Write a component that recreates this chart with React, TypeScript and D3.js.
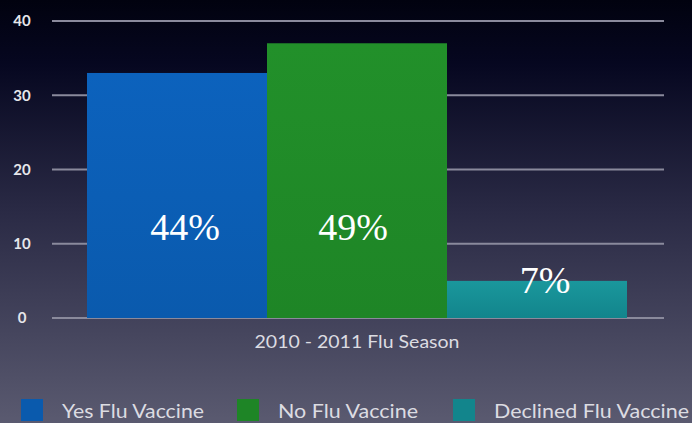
import React from "react";
import * as d3 from "d3";

const categories = ["Yes Flu Vaccine", "No Flu Vaccine", "Declined Flu Vaccine"];
const values = [33, 37, 5];
const percentLabels = ["44%", "49%", "7%"];
const yTicks = [0, 10, 20, 30, 40];
const groupLabel = "2010 - 2011 Flu Season";
const colors = ["#0a5aad", "#1e8526", "#12858c"];
const colorsLight = ["#0c62bd", "#22902a", "#1a979c"];

const W = 692;
const H = 423;

export default function App() {
  const y = d3.scaleLinear().domain([0, 40]).range([318, 21]);
  const x = d3.scaleBand().domain(categories).range([87, 627]).padding(0);
  const legendX = [21, 237, 453];
  const sans = "Lato, 'Open Sans', sans-serif";

  return (
    <svg width={W} height={H} style={{ position: "absolute", left: 0, top: 0 }}>
      <defs>
        <linearGradient id="bg" x1="0" y1="0" x2="0" y2="1">
          <stop offset="0" stopColor="#01020f" />
          <stop offset="0.15" stopColor="#060720" />
          <stop offset="0.5" stopColor="#2a2a45" />
          <stop offset="1" stopColor="#5a5a70" />
        </linearGradient>
        {colors.map((c, i) => (
          <linearGradient key={i} id={`bar${i}`} x1="0" y1="0" x2="0" y2="1">
            <stop offset="0" stopColor={colorsLight[i]} />
            <stop offset="1" stopColor={c} />
          </linearGradient>
        ))}
      </defs>
      <rect x={0} y={0} width={W} height={H} fill="url(#bg)" />
      {yTicks.map((t) => (
        <g key={t}>
          <line x1={52} x2={664} y1={y(t)} y2={y(t)} stroke="#8a8a9c" strokeWidth={2} />
          <text
            x={22}
            y={y(t)}
            dy="0.35em"
            textAnchor="middle"
            fill="#e6e6ea"
            fontFamily={sans}
            fontWeight="bold"
            fontSize={15}
          >
            {t}
          </text>
        </g>
      ))}
      {categories.map((c, i) => (
        <rect
          key={c}
          x={x(c)}
          y={y(values[i])}
          width={x.bandwidth()}
          height={y(0) - y(values[i])}
          fill={`url(#bar${i})`}
        />
      ))}
      {categories.map((c, i) => (
        <text
          key={c + "l"}
          x={(x(c) as number) + x.bandwidth() / 2 + (i === 1 ? -4 : 8)}
          y={i === 2 ? 293 : 240}
          textAnchor="middle"
          fill="#ffffff"
          fontFamily="'Liberation Serif', 'DejaVu Serif', serif"
          fontSize={38}
        >
          {percentLabels[i]}
        </text>
      ))}
      <text
        x={357}
        y={348}
        textAnchor="middle"
        fill="#dcdce2"
        fontFamily={sans}
        fontSize={18}
        textLength={205}
        lengthAdjust="spacingAndGlyphs"
      >
        {groupLabel}
      </text>
      {categories.map((c, i) => (
        <g key={c + "leg"}>
          <rect x={legendX[i]} y={399} width={22} height={22} fill={colors[i]} />
          <text
            x={legendX[i] + 41}
            y={418}
            fill="#dcdce2"
            fontFamily={sans}
            fontSize={20}
            textLength={[142, 140, 195][i]}
            lengthAdjust="spacingAndGlyphs"
          >
            {c}
          </text>
        </g>
      ))}
    </svg>
  );
}
